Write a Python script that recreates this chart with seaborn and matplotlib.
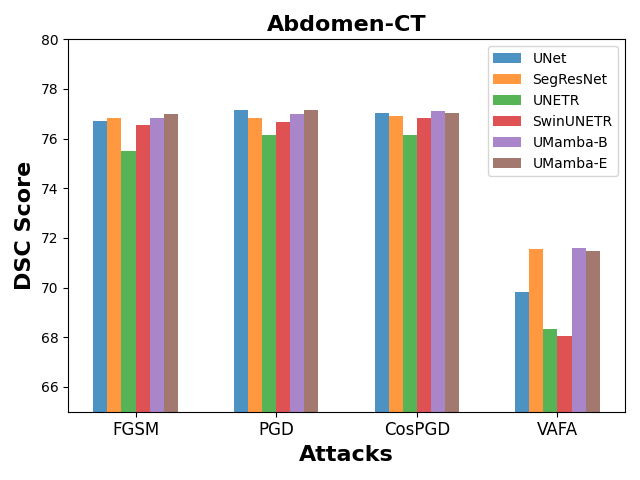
import pandas as pd
import numpy as np
import matplotlib
matplotlib.use("Agg")
import matplotlib.pyplot as plt
import seaborn as sns

# attacks on the x axis, one bar per model
attacks = ["FGSM", "PGD", "CosPGD", "VAFA"]
models = ["UNet", "SegResNet", "UNETR", "SwinUNETR", "UMamba-B", "UMamba-E"]

# DSC scores, one list per model (FGSM, PGD, CosPGD, VAFA)
unet = [76.71, 77.15, 77.03, 69.83]
segresnet = [76.83, 76.83, 76.91, 71.56]
unetr = [75.50, 76.14, 76.14, 68.34]
swinunetr = [76.55, 76.67, 76.83, 68.06]
umamba_b = [76.83, 77.00, 77.11, 71.60]
umamba_e = [77.00, 77.15, 77.03, 71.48]

scores = [unet, segresnet, unetr, swinunetr, umamba_b, umamba_e]
rows = []
for m, vals in zip(models, scores):
    for a, v in zip(attacks, vals):
        rows.append({"Attack": a, "Model": m, "DSC": v})
df = pd.DataFrame(rows)

fig, ax = plt.subplots(figsize=(6.4, 4.8), dpi=100)
sns.barplot(data=df, x="Attack", y="DSC", hue="Model", order=attacks, hue_order=models,
            palette="tab10", saturation=1, alpha=0.8, width=0.6, errorbar=None, ax=ax)

ax.set_ylim(65, 80)
ax.set_xlim(-0.48, 3.48)
ax.set_title("Abdomen-CT", fontsize=16, fontweight="bold")
ax.set_xlabel("Attacks", fontsize=16, fontweight="bold")
ax.set_ylabel("DSC Score", fontsize=16, fontweight="bold")
ax.tick_params(axis="x", labelsize=12)
ax.legend(loc="upper right")
plt.tight_layout()
plt.savefig("out.png")
